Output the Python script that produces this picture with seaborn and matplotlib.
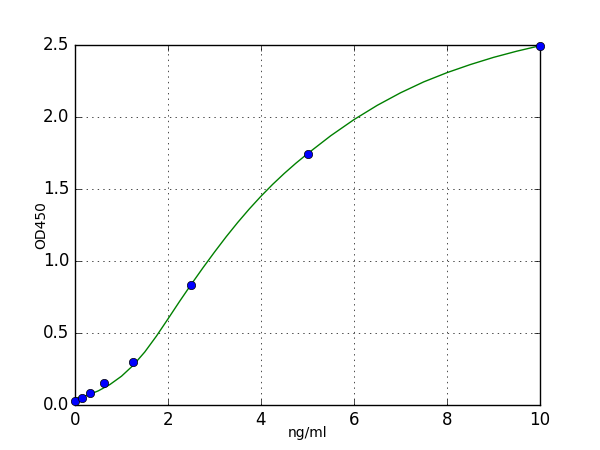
import matplotlib
matplotlib.use("Agg")
import matplotlib.pyplot as plt
import seaborn as sns
import pandas as pd

# Standard points (concentration ng/ml vs OD450)
conc = [0.0, 0.156, 0.3125, 0.625, 1.25, 2.5, 5.0, 10.0]
od = [0.026, 0.049, 0.083, 0.150, 0.302, 0.832, 1.740, 2.495]

# Fitted curve
curve_x = [0.0, 0.25, 0.5, 0.75, 1.0, 1.25, 1.5, 1.75, 2.0, 2.25, 2.5, 2.75, 3.0,
           3.25, 3.5, 3.75, 4.0, 4.25, 4.5, 4.75, 5.0, 5.5, 6.0, 6.5, 7.0, 7.5,
           8.0, 8.5, 9.0, 9.5, 10.0]
curve_y = [0.045, 0.066, 0.098, 0.142, 0.200, 0.275, 0.368, 0.478, 0.598, 0.720, 0.838,
           0.952, 1.062, 1.168, 1.268, 1.362, 1.450, 1.532, 1.608, 1.679, 1.745, 1.870,
           1.982, 2.081, 2.168, 2.244, 2.308, 2.364, 2.414, 2.457, 2.495]

x_ticks = [0, 2, 4, 6, 8, 10]
y_ticks = [0.0, 0.5, 1.0, 1.5, 2.0, 2.5]

plt.style.use("classic")
plt.rcParams["font.family"] = ["DejaVu Sans"]

fig, ax = plt.subplots(figsize=(6, 4.5), dpi=100)
fig.patch.set_facecolor("white")
ax.set_facecolor("white")

pts = pd.DataFrame({"x": conc, "y": od})
crv = pd.DataFrame({"x": curve_x, "y": curve_y})

sns.lineplot(data=crv, x="x", y="y", ax=ax, color=(0, 0.5, 0), linewidth=1.0,
             sort=True, estimator=None, zorder=2)
sns.scatterplot(data=pts, x="x", y="y", ax=ax, color=(0, 0, 1), s=36,
                edgecolor="black", linewidth=0.5, zorder=3, clip_on=False)

ax.set_xlim(0, 10)
ax.set_ylim(0, 2.5)
ax.set_xticks(x_ticks)
ax.set_yticks(y_ticks)
ax.set_yticklabels([f"{v:.1f}" for v in y_ticks])
ax.set_xlabel("ng/ml", fontsize=10, labelpad=-2)
ax.set_ylabel("OD450", fontsize=10, labelpad=-4)
ax.grid(True, linestyle=":", color="black", linewidth=0.5)
ax.tick_params(direction="in", top=True, right=True, labelsize=12)

fig.savefig("out.png", dpi=100, facecolor="white")
